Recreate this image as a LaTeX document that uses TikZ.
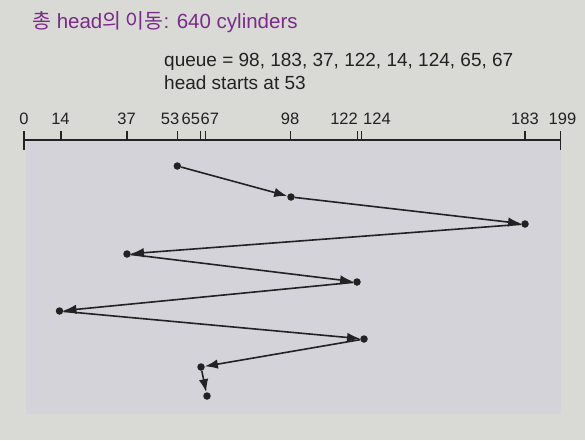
\documentclass[tikz,border=0pt]{standalone}
\usepackage{fontspec}
\setmainfont{Liberation Sans}
\newfontfamily\kor{Noto Sans CJK KR}
\usepackage{tikz}
\usetikzlibrary{arrows.meta}
\definecolor{paper}{HTML}{D9DAD5}
\definecolor{panel}{HTML}{D3D3D9}
\definecolor{title}{HTML}{7A2A88}
\definecolor{ink}{HTML}{222222}

\begin{document}
\begin{tikzpicture}[x=1pt,y=-1pt]
      \tikzstyle axis=[ink, line width=1.5pt]
      \tikzstyle lbl=[ink, inner sep=0pt, font=\fontsize{16.5}{20}\selectfont]
      \tikzstyle dot=[circle, fill=ink, inner sep=0pt, minimum size=7.5pt]
      \tikzstyle move=[ink, line width=1.6pt,
      -{Latex[length=13pt,width=9.5pt]}]
      \useasboundingbox (0,0) rectangle (585,440);
      \fill [paper] (0,0) rectangle (585,440);
      \fill [panel] (26,140) rectangle (561,414);
      % title and request queue
      \node [title, anchor=base west, inner sep=0pt,
        font=\fontsize{20.5}{24}\selectfont] (ttl) at (32,28)
        {{\kor 총} head{\kor 의 이동}: 640 cylinders};
      \node [ink, anchor=base west, inner sep=0pt,
        font=\fontsize{19}{23}\selectfont] (queue) at (164,66.5)
        {queue = 98, 183, 37, 122, 14, 124, 65, 67};
      \node [ink, anchor=base west, inner sep=0pt,
        font=\fontsize{19}{23}\selectfont] (start) at (164,89.5)
        {head starts at 53};
      % cylinder axis
      \draw [axis] (24,140) -- (560.7,140);
      \draw [axis] (24,131) -- (24,150);
      \draw [axis] (560.7,131) -- (560.7,150);
      \draw [axis] (61,131) -- (61,140);
      \draw [axis] (127,131) -- (127,140);
      \draw [axis] (177.3,131) -- (177.3,140);
      \draw [axis] (200.7,131) -- (200.7,140);
      \draw [axis] (205.7,131) -- (205.7,140);
      \draw [axis] (290.7,131) -- (290.7,140);
      \draw [axis] (357.3,131) -- (357.3,140);
      \draw [axis] (361.7,131) -- (361.7,140);
      \draw [axis] (525,131) -- (525,140);
      \node [lbl, anchor=base] (c0) at (24,124) {0};
      \node [lbl, anchor=base] (c14) at (60.5,124) {14};
      \node [lbl, anchor=base] (c37) at (126.5,124) {37};
      \node [lbl, anchor=base east] (c53) at (179.5,124) {53};
      \node [lbl, anchor=base west] (c65) at (181.5,124) {65};
      \node [lbl, anchor=base west] (c67) at (200.5,124) {67};
      \node [lbl, anchor=base] (c98) at (290,124) {98};
      \node [lbl, anchor=base east] (c122) at (358,124) {122};
      \node [lbl, anchor=base west] (c124) at (363,124) {124};
      \node [lbl, anchor=base] (c183) at (525,124) {183};
      \node [lbl, anchor=base] (c199) at (562.5,124) {199};
      % head positions in service order
      \node [dot] (h53) at (177.3,166) {};
      \node [dot] (h98) at (291,197) {};
      \node [dot] (h183) at (525,224) {};
      \node [dot] (h37) at (127,254) {};
      \node [dot] (h122) at (357,282) {};
      \node [dot] (h14) at (59.5,311) {};
      \node [dot] (h124) at (364,339) {};
      \node [dot] (h65) at (201,367) {};
      \node [dot] (h67) at (207,396) {};
      \draw [move] (h53) -- (h98);
      \draw [move] (h98) -- (h183);
      \draw [move] (h183) -- (h37);
      \draw [move] (h37) -- (h122);
      \draw [move] (h122) -- (h14);
      \draw [move] (h14) -- (h124);
      \draw [move] (h124) -- (h65);
      \draw [move] (h65) -- (h67);
    \end{tikzpicture}
\end{document}
